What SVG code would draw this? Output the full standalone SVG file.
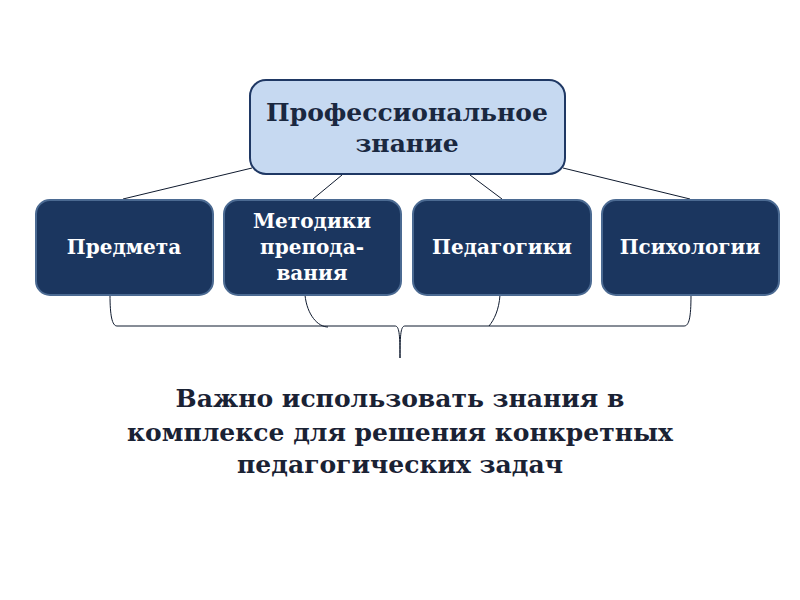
<svg xmlns="http://www.w3.org/2000/svg" width="800" height="600" viewBox="0 0 800 600">
<style>
.top{fill:#c6d9f1;stroke:#1f3864;stroke-width:2}
.box{fill:#1b365f;stroke:#4b6a92;stroke-width:2}
.tt{font-family:"DejaVu Serif","Liberation Serif",serif;font-weight:bold;font-size:25px;fill:#1a2840;text-anchor:middle}
.bt{font-family:"DejaVu Serif","Liberation Serif",serif;font-weight:bold;font-size:20px;fill:#ffffff;text-anchor:middle}
.mt{font-family:"DejaVu Serif","Liberation Serif",serif;font-weight:bold;font-size:25px;fill:#1a2234;text-anchor:middle}
.c{fill:none;stroke:#0f1a2e;stroke-width:1}
</style>
<rect width="800" height="600" fill="#ffffff"/>
<g id="connectors">
<line class="c" x1="252" y1="168" x2="123" y2="199"/>
<line class="c" x1="342" y1="175" x2="313" y2="199"/>
<line class="c" x1="470" y1="175" x2="502" y2="199"/>
<line class="c" x1="563" y1="168" x2="690" y2="199"/>
<path class="c" d="M110,295 C110,315 112,326 117,326 L395,326 C399,326 400,333 400,358"/>
<path class="c" d="M305,295 C307,315 318,327 328,327"/>
<path class="c" d="M500,295 C499,310 494,320 489,326"/>
<path class="c" d="M691,295 C691,318 689,326 684,326 L405,326 C401,326 400,333 400,358"/>
</g>
<g id="node-top">
<rect class="top" x="250" y="80" width="315" height="94" rx="16"/>
<text class="tt" x="407" y="121">Профессиональное</text>
<text class="tt" x="407" y="152">знание</text>
</g>
<g id="node-predmeta">
<rect class="box" x="36" y="200" width="177" height="95" rx="14"/>
<text class="bt" x="124" y="254">Предмета</text>
</g>
<g id="node-metodiki">
<rect class="box" x="224" y="200" width="177" height="95" rx="14"/>
<text class="bt" x="312" y="228">Методики</text>
<text class="bt" x="312" y="254">препода-</text>
<text class="bt" x="312" y="280">вания</text>
</g>
<g id="node-pedagogiki">
<rect class="box" x="413" y="200" width="178" height="95" rx="14"/>
<text class="bt" x="502" y="254">Педагогики</text>
</g>
<g id="node-psihologii">
<rect class="box" x="602" y="200" width="177" height="95" rx="14"/>
<text class="bt" x="690" y="254">Психологии</text>
</g>
<g id="note">
<text class="mt" x="400" y="407">Важно использовать знания в</text>
<text class="mt" x="400" y="441">комплексе для решения конкретных</text>
<text class="mt" x="400" y="473">педагогических задач</text>
</g>
</svg>
